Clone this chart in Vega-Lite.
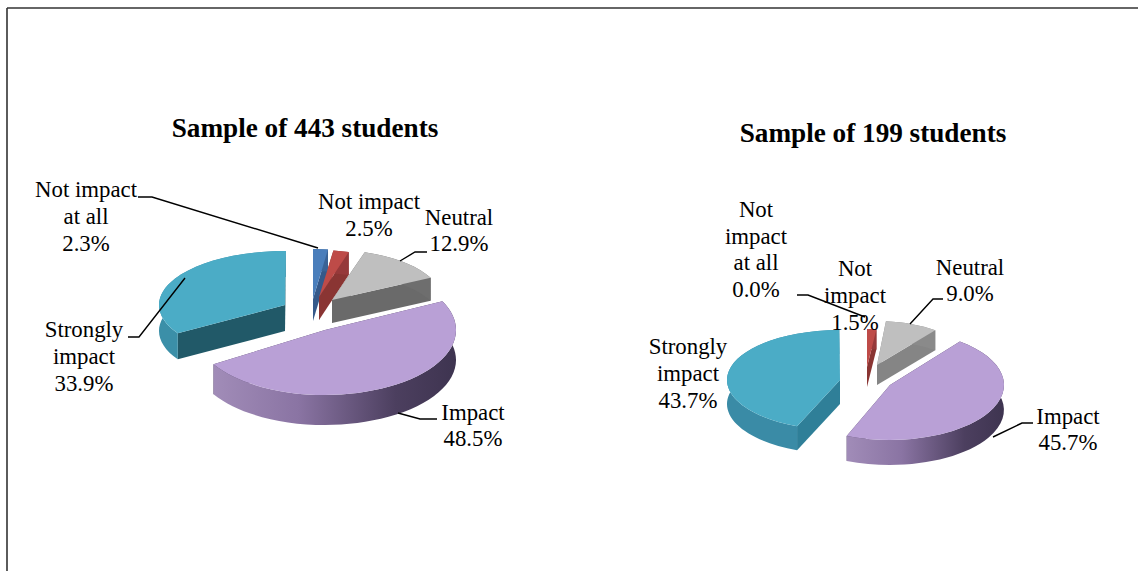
{
  "$schema": "https://vega.github.io/schema/vega-lite/v6.json",
  "width": 1131,
  "height": 563,
  "autosize": "none",
  "padding": {"left": 7, "top": 8, "right": 0, "bottom": 0},
  "background": "white",
  "config": {"view": {"stroke": null}},
  "data": {"values": [
    {"sample": 443, "category": "Not impact at all", "label": "Not impact\nat all", "pct": 2.3},
    {"sample": 443, "category": "Not impact", "label": "Not impact", "pct": 2.5},
    {"sample": 443, "category": "Neutral", "label": "Neutral", "pct": 12.9},
    {"sample": 443, "category": "Impact", "label": "Impact", "pct": 48.5},
    {"sample": 443, "category": "Strongly impact", "label": "Strongly\nimpact", "pct": 33.9},
    {"sample": 199, "category": "Not impact at all", "label": "Not\nimpact\nat all", "pct": 0.0},
    {"sample": 199, "category": "Not impact", "label": "Not\nimpact", "pct": 1.5},
    {"sample": 199, "category": "Neutral", "label": "Neutral", "pct": 9.0},
    {"sample": 199, "category": "Impact", "label": "Impact", "pct": 45.7},
    {"sample": 199, "category": "Strongly impact", "label": "Strongly\nimpact", "pct": 43.7}
  ]},
  "transform": [
    {"stack": "pct", "groupby": ["sample"], "as": ["s0", "s1"]},
    {"calculate": "datum.sample + '|' + datum.category", "as": "key"},
    {"calculate": "'rim|' + datum.key", "as": "rimKey"},
    {"calculate": "datum.label + '\\n' + format(datum.pct, '.1f') + '%'", "as": "text"},
    {"calculate": "'Sample of ' + datum.sample + ' students'", "as": "title"},
    {"calculate": "datum.s0 * PI / 50", "as": "a0"},
    {"calculate": "datum.s1 * PI / 50", "as": "a1"},
    {"calculate": "{'443|Not impact at all':[-7,-1,104,50,22],'443|Not impact':[-1,-3,100,47,23],'443|Neutral':[12,0,110,50,23],'443|Impact':[5,30,131,65,30],'443|Strongly impact':[-35,5,126,54,26],'199|Not impact at all':[0,0,100,40,20],'199|Not impact':[-3,-3,100,38,20],'199|Neutral':[7,-5,95,44,20],'199|Impact':[20,15,114,55,25],'199|Strongly impact':[-30,10,113,50,24]}[datum.key]", "as": "g"},
    {"calculate": "datum.g[0]", "as": "ax"},
    {"calculate": "datum.g[1]", "as": "ay"},
    {"calculate": "datum.g[2] + ',' + datum.g[3] + ' 0 ' + (datum.a1 - datum.a0 > PI ? 1 : 0)", "as": "arc"},
    {"calculate": "datum.ax + datum.g[2] * sin(datum.a0)", "as": "x0"},
    {"calculate": "datum.ay - datum.g[3] * cos(datum.a0)", "as": "y0"},
    {"calculate": "datum.ax + datum.g[2] * sin(datum.a1)", "as": "x1"},
    {"calculate": "datum.ay - datum.g[3] * cos(datum.a1)", "as": "y1"},
    {"calculate": "datum.g[4]", "as": "d"},
    {"calculate": "'M' + datum.ax + ',' + datum.ay + 'L' + datum.x0 + ',' + datum.y0 + 'A' + datum.arc + ' 1 ' + datum.x1 + ',' + datum.y1 + 'Z'", "as": "topPath"},
    {"calculate": "'M' + datum.x0 + ',' + datum.y0 + 'A' + datum.arc + ' 1 ' + datum.x1 + ',' + datum.y1 + 'L' + datum.x1 + ',' + (datum.y1 + datum.d) + 'A' + datum.arc + ' 0 ' + datum.x0 + ',' + (datum.y0 + datum.d) + 'Z'", "as": "rimPath"},
    {"calculate": "'M' + datum.ax + ',' + datum.ay + 'L' + datum.x0 + ',' + datum.y0 + 'L' + datum.x0 + ',' + (datum.y0 + datum.d) + 'L' + datum.ax + ',' + (datum.ay + datum.d) + 'Z'", "as": "cutA"},
    {"calculate": "'M' + datum.ax + ',' + datum.ay + 'L' + datum.x1 + ',' + datum.y1 + 'L' + datum.x1 + ',' + (datum.y1 + datum.d) + 'L' + datum.ax + ',' + (datum.ay + datum.d) + 'Z'", "as": "cutB"}
  ],
  "layer": [
    {
      "transform": [{"filter": "datum.key == '443|Impact'"}],
      "mark": {"type": "rule", "color": "#333333", "strokeWidth": 1.6},
      "encoding": {"x": {"value": 0}}
    },
    {
      "transform": [{"filter": "datum.key == '443|Impact'"}],
      "mark": {"type": "rule", "color": "#333333", "strokeWidth": 1.6},
      "encoding": {"y": {"value": 0}}
    },
    {
      "encoding": {
        "x": {"field": "sample", "type": "ordinal", "axis": null, "scale": {"type": "point", "padding": 0, "domain": [443, 199], "range": [313, 863]}},
        "y": {"field": "sample", "type": "ordinal", "axis": null, "scale": {"type": "point", "padding": 0, "domain": [443, 199], "range": [292, 362]}}
      },
      "layer": [
        {
          "mark": {"type": "point", "filled": true, "opacity": 1, "size": 4, "strokeWidth": 0},
          "encoding": {
            "shape": {"field": "cutA", "type": "nominal", "scale": null},
            "color": {"field": "key", "type": "nominal", "legend": null, "scale": {
              "domain": ["443|Not impact at all", "443|Not impact", "443|Neutral", "443|Impact", "443|Strongly impact", "199|Not impact at all", "199|Not impact", "199|Neutral", "199|Impact", "199|Strongly impact", "rim|443|Not impact at all", "rim|443|Not impact", "rim|443|Neutral", "rim|443|Strongly impact", "rim|199|Not impact at all", "rim|199|Not impact", "rim|199|Neutral", "rim|199|Strongly impact"],
              "range": ["#35598a", "#8a3533", "#6a6a6a", "#4a3d5c", "#215968", "#35598a", "#8a3533", "#858585", "#4a3d5c", "#2f7f98", "#3a6396", "#96393a", "#6e6e6e", "#3b8fa8", "#3a6396", "#96393a", "#8a8a8a", "#3a8ba6"]
            }}
          }
        },
        {
          "mark": {"type": "point", "filled": true, "opacity": 1, "size": 4, "strokeWidth": 0},
          "encoding": {
            "shape": {"field": "cutB", "type": "nominal", "scale": null},
            "color": {"field": "key", "type": "nominal", "legend": null}
          }
        },
        {
          "transform": [{"filter": "datum.category != 'Impact'"}],
          "mark": {"type": "point", "filled": true, "opacity": 1, "size": 4, "strokeWidth": 0},
          "encoding": {
            "shape": {"field": "rimPath", "type": "nominal", "scale": null},
            "color": {"field": "rimKey", "type": "nominal", "legend": null}
          }
        },
        {
          "transform": [{"filter": "datum.category == 'Impact'"}],
          "mark": {"type": "point", "filled": true, "opacity": 1, "size": 4, "strokeWidth": 0,
            "fill": {"gradient": "linear", "x1": 0, "y1": 0, "x2": 1, "y2": 0, "stops": [
              {"offset": 0, "color": "#a18cb8"},
              {"offset": 0.35, "color": "#8a74a3"},
              {"offset": 0.75, "color": "#4c3f5f"},
              {"offset": 1, "color": "#3e3450"}
            ]}
          },
          "encoding": {"shape": {"field": "rimPath", "type": "nominal", "scale": null}}
        },
        {
          "mark": {"type": "point", "filled": true, "opacity": 1, "size": 4, "strokeWidth": 0},
          "encoding": {
            "shape": {"field": "topPath", "type": "nominal", "scale": null},
            "fill": {"field": "category", "type": "nominal", "legend": null, "scale": {
              "domain": ["Not impact at all", "Not impact", "Neutral", "Impact", "Strongly impact"],
              "range": ["#4a7ebb", "#be4b48", "#bfbfbf", "#b9a0d6", "#4bacc6"]
            }}
          }
        },
        {"transform": [{"filter": "datum.key == '443|Not impact at all'"}], "mark": {"type": "point", "filled": false, "opacity": 1, "size": 4, "stroke": "black", "strokeWidth": 1.4, "shape": "M-182,-103L-168,-103L-2,-52"}},
        {"transform": [{"filter": "datum.key == '443|Neutral'"}], "mark": {"type": "point", "filled": false, "opacity": 1, "size": 4, "stroke": "black", "strokeWidth": 1.4, "shape": "M107,-48L95,-48L80,-39"}},
        {"transform": [{"filter": "datum.key == '443|Strongly impact'"}], "mark": {"type": "point", "filled": false, "opacity": 1, "size": 4, "stroke": "black", "strokeWidth": 1.4, "shape": "M-192,37L-181,37L-135,-22"}},
        {"transform": [{"filter": "datum.key == '443|Impact'"}], "mark": {"type": "point", "filled": false, "opacity": 1, "size": 4, "stroke": "black", "strokeWidth": 1.4, "shape": "M117,119L100,119L78,113"}},
        {"transform": [{"filter": "datum.key == '199|Not impact at all'"}], "mark": {"type": "point", "filled": false, "opacity": 1, "size": 4, "stroke": "black", "strokeWidth": 1.4, "shape": "M-73,-75L-62,-75L-5,-53"}},
        {"transform": [{"filter": "datum.key == '199|Neutral'"}], "mark": {"type": "point", "filled": false, "opacity": 1, "size": 4, "stroke": "black", "strokeWidth": 1.4, "shape": "M73,-71L63,-71L40,-46"}},
        {"transform": [{"filter": "datum.key == '199|Impact'"}], "mark": {"type": "point", "filled": false, "opacity": 1, "size": 4, "stroke": "black", "strokeWidth": 1.4, "shape": "M163,53L152,53L123,67"}},
        {"transform": [{"filter": "datum.key == '443|Impact'"}], "mark": {"type": "text", "font": "Liberation Serif", "fontWeight": "bold", "fontSize": 27.2, "dx": -15, "dy": -171, "color": "black"}, "encoding": {"text": {"field": "title"}}},
        {"transform": [{"filter": "datum.key == '199|Impact'"}], "mark": {"type": "text", "font": "Liberation Serif", "fontWeight": "bold", "fontSize": 27.2, "dx": 3, "dy": -236, "color": "black"}, "encoding": {"text": {"field": "title"}}},
        {"transform": [{"filter": "datum.key == '443|Not impact at all'"}], "mark": {"type": "text", "font": "Liberation Serif", "fontSize": 22.8, "lineBreak": "\n", "lineHeight": 26.7, "baseline": "middle", "color": "black", "dx": -234, "dy": -109.7}, "encoding": {"text": {"field": "text"}}},
        {"transform": [{"filter": "datum.key == '443|Not impact'"}], "mark": {"type": "text", "font": "Liberation Serif", "fontSize": 22.8, "lineBreak": "\n", "lineHeight": 26.7, "baseline": "middle", "color": "black", "dx": 49, "dy": -97.9}, "encoding": {"text": {"field": "text"}}},
        {"transform": [{"filter": "datum.key == '443|Neutral'"}], "mark": {"type": "text", "font": "Liberation Serif", "fontSize": 22.8, "lineBreak": "\n", "lineHeight": 26.7, "baseline": "middle", "color": "black", "dx": 139, "dy": -82.4}, "encoding": {"text": {"field": "text"}}},
        {"transform": [{"filter": "datum.key == '443|Strongly impact'"}], "mark": {"type": "text", "font": "Liberation Serif", "fontSize": 22.8, "lineBreak": "\n", "lineHeight": 26.7, "baseline": "middle", "color": "black", "dx": -236, "dy": 30.3}, "encoding": {"text": {"field": "text"}}},
        {"transform": [{"filter": "datum.key == '443|Impact'"}], "mark": {"type": "text", "font": "Liberation Serif", "fontSize": 22.8, "lineBreak": "\n", "lineHeight": 26.7, "baseline": "middle", "color": "black", "dx": 153, "dy": 112.6}, "encoding": {"text": {"field": "text"}}},
        {"transform": [{"filter": "datum.key == '199|Not impact at all'"}], "mark": {"type": "text", "font": "Liberation Serif", "fontSize": 22.8, "lineBreak": "\n", "lineHeight": 26.7, "baseline": "middle", "color": "black", "dx": -114, "dy": -160}, "encoding": {"text": {"field": "text"}}},
        {"transform": [{"filter": "datum.key == '199|Not impact'"}], "mark": {"type": "text", "font": "Liberation Serif", "fontSize": 22.8, "lineBreak": "\n", "lineHeight": 26.7, "baseline": "middle", "color": "black", "dx": -15, "dy": -100.7}, "encoding": {"text": {"field": "text"}}},
        {"transform": [{"filter": "datum.key == '199|Neutral'"}], "mark": {"type": "text", "font": "Liberation Serif", "fontSize": 22.8, "lineBreak": "\n", "lineHeight": 26.7, "baseline": "middle", "color": "black", "dx": 100, "dy": -102.4}, "encoding": {"text": {"field": "text"}}},
        {"transform": [{"filter": "datum.key == '199|Strongly impact'"}], "mark": {"type": "text", "font": "Liberation Serif", "fontSize": 22.8, "lineBreak": "\n", "lineHeight": 26.7, "baseline": "middle", "color": "black", "dx": -182, "dy": -22.7}, "encoding": {"text": {"field": "text"}}},
        {"transform": [{"filter": "datum.key == '199|Impact'"}], "mark": {"type": "text", "font": "Liberation Serif", "fontSize": 22.8, "lineBreak": "\n", "lineHeight": 26.7, "baseline": "middle", "color": "black", "dx": 198, "dy": 46.6}, "encoding": {"text": {"field": "text"}}}
      ]
    }
  ]
}
